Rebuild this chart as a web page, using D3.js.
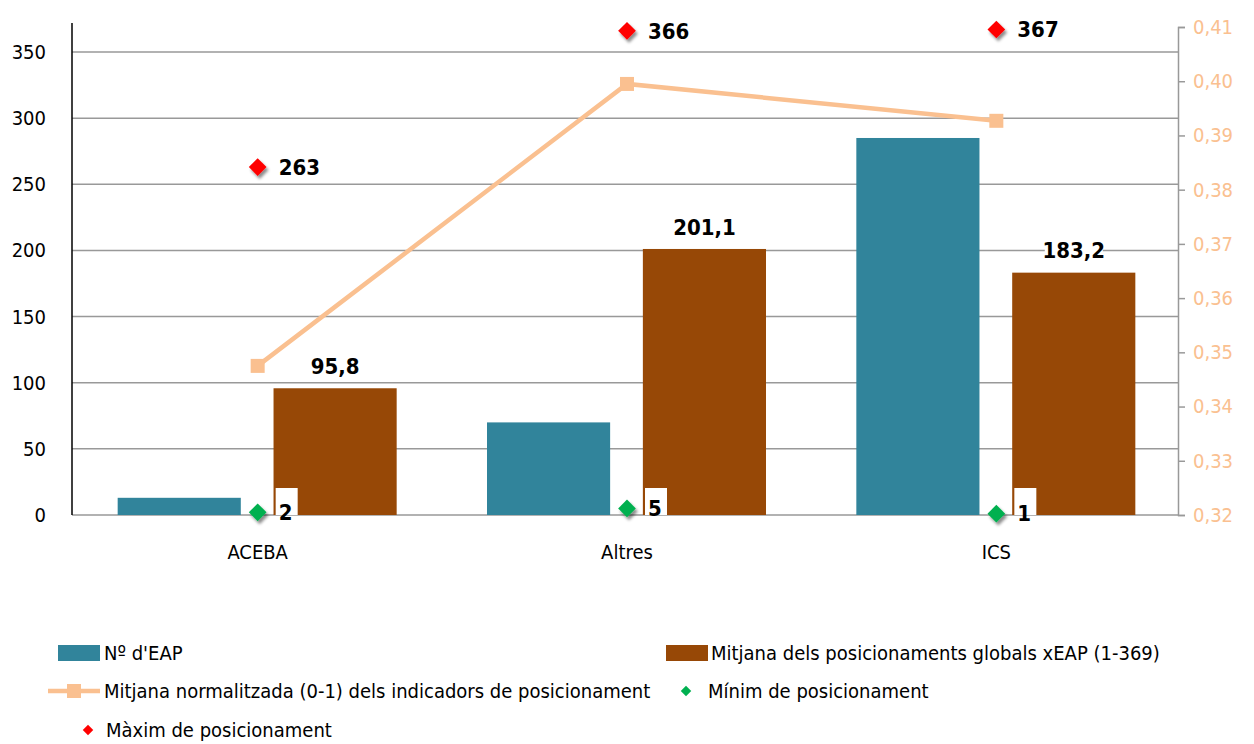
<!DOCTYPE html>
<html>
<head>
<meta charset="utf-8">
<script src="https://cdn.jsdelivr.net/npm/d3@7"></script>
<style>
  body { margin: 0; background: #fff; }
  svg text { font-family: "DejaVu Sans Condensed", "DejaVu Sans", sans-serif; }
</style>
</head>
<body>
<svg id="chart" width="1254" height="744"></svg>
<script>
// dades
var categories = ["ACEBA", "Altres", "ICS"];
var numEAP = [13, 70, 285];
var mitjanaPos = [95.8, 201.1, 183.2];
var mitjanaNorm = [0.3475, 0.3995, 0.3927];
var minimPos = [2, 5, 1];
var maximPos = [263, 366, 367];
var leftTicks = [0, 50, 100, 150, 200, 250, 300, 350];
var rightTicks = [0.32, 0.33, 0.34, 0.35, 0.36, 0.37, 0.38, 0.39, 0.40, 0.41];

var colTeal = "#31849b", colBrown = "#974806", colLine = "#fac090";
var fmt = function(v) { return String(v).replace(".", ","); };

var svg = d3.select("#chart");
var axL = 72, axR = 1178;

// ombra dels rombes
svg.append("defs").append("filter").attr("id", "shadow")
  .attr("x", "-50%").attr("y", "-50%").attr("width", "200%").attr("height", "200%")
  .append("feDropShadow").attr("dx", 2).attr("dy", 3).attr("stdDeviation", 1.8)
  .attr("flood-color", "#000").attr("flood-opacity", 0.45);

var x = d3.scaleBand().domain(categories).range([73, 1181]);
var xs = d3.scaleBand().domain(["n", "m"]).range([-140, 139]).paddingInner(0.21);
var y = d3.scaleLinear().domain([0, 350]).range([515, 52]);
var y2 = d3.scaleLinear().domain([0.32, 0.41]).range([515, 27]);
var cx = function(i) { return x(categories[i]) + x.bandwidth() / 2; };

// graella
svg.append("g").selectAll("line").data(leftTicks).join("line")
  .attr("x1", axL).attr("x2", axR)
  .attr("y1", function(d) { return y(d); }).attr("y2", function(d) { return y(d); })
  .attr("stroke", "#999").attr("stroke-width", 1.5);

// eix esquerre
svg.append("line").attr("x1", axL).attr("x2", axL).attr("y1", y(372)).attr("y2", y(0))
  .attr("stroke", "#000").attr("stroke-width", 1.5);
svg.append("g").selectAll("text").data(leftTicks).join("text")
  .attr("x", 46).attr("y", function(d) { return y(d); })
  .attr("dy", "0.35em").attr("text-anchor", "end")
  .style("font-size", "20px").attr("fill", "#000")
  .text(function(d) { return d; });

// eix dret
var gR = svg.append("g").attr("transform", "translate(" + axR + ",0)")
  .call(d3.axisRight(y2).tickValues(rightTicks).tickSize(7).tickPadding(8)
    .tickFormat(function(d) { return d3.format(".2f")(d).replace(".", ","); }));
gR.select(".domain").attr("stroke", "#999").attr("stroke-width", 1.5);
gR.selectAll(".tick line").attr("stroke", "#999").attr("stroke-width", 1.5);
gR.selectAll(".tick text").attr("fill", colLine).style("font-size", "20px")
  .style("font-family", "'DejaVu Sans Condensed', 'DejaVu Sans', sans-serif");

// categories
svg.append("g").selectAll("text").data(categories).join("text")
  .attr("x", function(d) { return x(d) + x.bandwidth() / 2; }).attr("y", 559)
  .attr("text-anchor", "middle").style("font-size", "20px")
  .text(function(d) { return d; });

// barres
svg.append("g").selectAll("rect").data(numEAP).join("rect")
  .attr("x", function(d, i) { return cx(i) + xs("n"); })
  .attr("width", xs.bandwidth())
  .attr("y", function(d) { return y(d); })
  .attr("height", function(d) { return y(0) - y(d); })
  .attr("fill", colTeal);
svg.append("g").selectAll("rect").data(mitjanaPos).join("rect")
  .attr("x", function(d, i) { return cx(i) + xs("m"); })
  .attr("width", xs.bandwidth())
  .attr("y", function(d) { return y(d); })
  .attr("height", function(d) { return y(0) - y(d); })
  .attr("fill", colBrown);

// etiquetes de les barres
var barLab = svg.append("g").selectAll("g").data(mitjanaPos).join("g")
  .attr("transform", function(d, i) {
    return "translate(" + (cx(i) + xs("m") + xs.bandwidth() / 2) + "," + (y(d) - 22) + ")";
  });
barLab.append("rect").attr("x", -29).attr("y", -14).attr("width", 58).attr("height", 28).attr("fill", "#fff");
barLab.append("text").attr("text-anchor", "middle").attr("dy", "0.35em")
  .style("font-size", "22px").style("font-weight", "bold")
  .text(function(d) { return fmt(d); });

// línia
var line = d3.line().x(function(d, i) { return cx(i); }).y(function(d) { return y2(d); });
svg.append("path").datum(mitjanaNorm).attr("d", line)
  .attr("fill", "none").attr("stroke", colLine).attr("stroke-width", 4.5);
svg.append("g").selectAll("rect").data(mitjanaNorm).join("rect")
  .attr("x", function(d, i) { return cx(i) - 7; })
  .attr("y", function(d) { return y2(d) - 7; })
  .attr("width", 14).attr("height", 14).attr("fill", colLine);

// rombes
var diamond = d3.symbol().type(d3.symbolDiamond2).size(200);
function drawPoints(vals, col, withBox) {
  var g = svg.append("g").selectAll("g").data(vals).join("g")
    .attr("transform", function(d, i) { return "translate(" + cx(i) + "," + y(d) + ")"; });
  g.append("path").attr("d", diamond).attr("fill", col).attr("filter", "url(#shadow)");
  if (withBox) {
    g.append("rect").attr("x", 18).attr("y", function(d) { return y(0) - y(d) - 27; })
      .attr("width", 22).attr("height", 27).attr("fill", "#fff");
  }
  g.append("text").attr("x", 21).attr("dy", "0.35em")
    .style("font-size", "22px").style("font-weight", "bold")
    .text(function(d) { return d; });
}
drawPoints(minimPos, "#00b050", true);
drawPoints(maximPos, "#ff0000", false);

// llegenda
var leg = svg.append("g").style("font-size", "20px");
leg.append("rect").attr("x", 58).attr("y", 645).attr("width", 42).attr("height", 16).attr("fill", colTeal);
leg.append("text").attr("x", 104).attr("y", 653).attr("dy", "0.35em").text("Nº d'EAP");
leg.append("rect").attr("x", 666).attr("y", 645).attr("width", 42).attr("height", 16).attr("fill", colBrown);
leg.append("text").attr("x", 711).attr("y", 653).attr("dy", "0.35em").text("Mitjana dels posicionaments globals xEAP (1-369)");
leg.append("line").attr("x1", 48).attr("x2", 100).attr("y1", 691).attr("y2", 691)
  .attr("stroke", colLine).attr("stroke-width", 4.5);
leg.append("rect").attr("x", 67).attr("y", 684).attr("width", 14).attr("height", 14).attr("fill", colLine);
leg.append("text").attr("x", 104).attr("y", 691).attr("dy", "0.35em").text("Mitjana normalitzada (0-1) dels indicadors de posicionament");
leg.append("path").attr("d", d3.symbol().type(d3.symbolDiamond2).size(70))
  .attr("transform", "translate(686,691)").attr("fill", "#00b050");
leg.append("text").attr("x", 708).attr("y", 691).attr("dy", "0.35em").text("Mínim de posicionament");
leg.append("path").attr("d", d3.symbol().type(d3.symbolDiamond2).size(70))
  .attr("transform", "translate(88,730)").attr("fill", "#ff0000");
leg.append("text").attr("x", 106).attr("y", 730).attr("dy", "0.35em").text("Màxim de posicionament");
</script>
</body>
</html>
